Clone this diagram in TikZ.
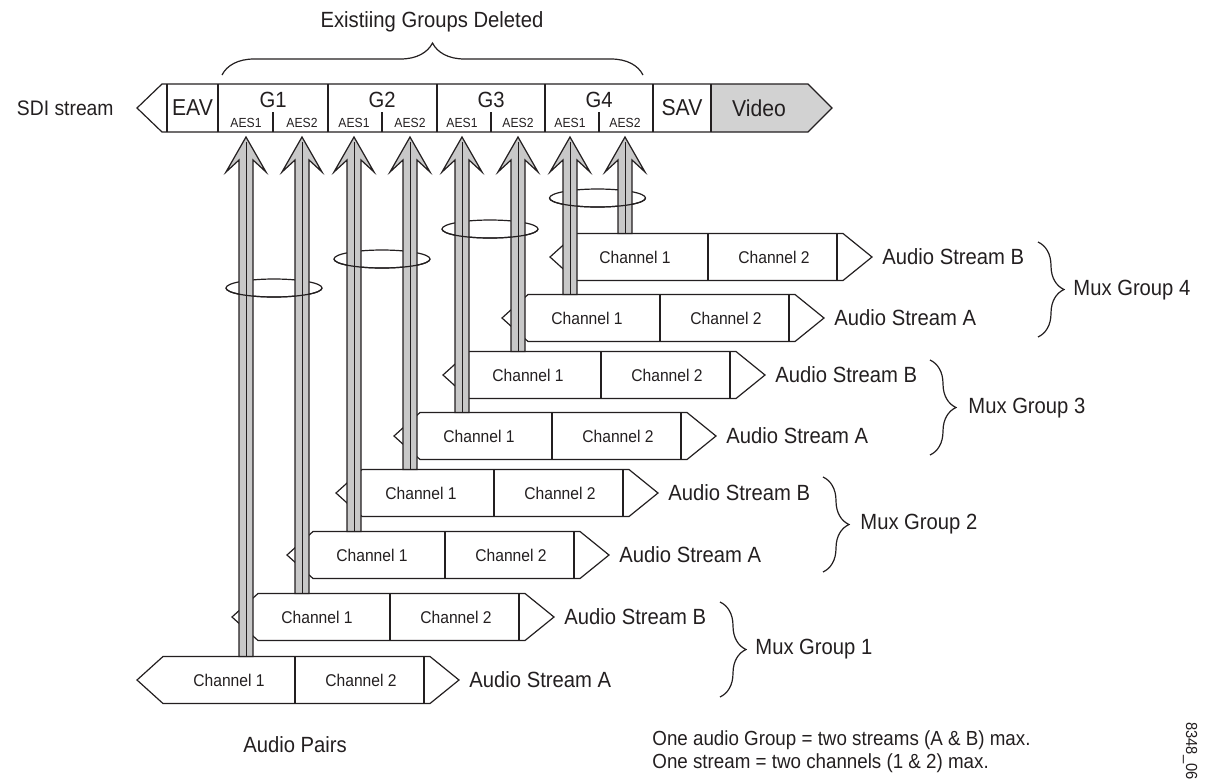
\documentclass[tikz,border=0pt]{standalone}
\usepackage{fontspec}
\setmainfont{Liberation Sans}[FakeStretch=0.92]
\usetikzlibrary{positioning,calc,decorations.pathreplacing}
\definecolor{inkgray}{HTML}{231F20}
\definecolor{pairgray}{HTML}{C8C8C8}
\definecolor{videogray}{HTML}{D2D2D2}
\tikzset{
  outline/.style={draw=inkgray,line width=0.6pt},
  stream/.style={outline,fill=white},
  chan/.style={font=\fontsize{8.5}{10}\selectfont,text=inkgray,inner sep=0pt},
  lbl/.style={font=\fontsize{11}{11.5}\selectfont,text=inkgray,inner sep=0pt},
  sdicell/.style={font=\fontsize{11.5}{14}\selectfont,text=inkgray,inner sep=0pt},
  grp/.style={font=\fontsize{11}{13}\selectfont,text=inkgray,inner sep=0pt},
  aes/.style={font=\fontsize{6.6}{8}\selectfont,text=inkgray,inner sep=0pt},
  pairarrow/.style={outline,fill=pairgray},
  pairline/.style={draw=inkgray,line width=0.5pt},
  ring/.style={draw=inkgray,line width=0.6pt},
  grpbrace/.style={draw=inkgray,line width=0.6pt,decorate,decoration={brace,amplitude=#1}}
}

% one audio stream: [channel 1 offset] name, left tip, A or B
\newcommand\audiostream[4][85]{%
  \coordinate (#2) at (#3);
  \draw[stream] (#2) -- ++(26,-23.5) coordinate (#2nw) -- ++(267,0) -- ++(29,23.5) coordinate (#2tip)
    -- ++(-29,23.5) -- ++(-267,0) -- cycle;
  \draw[outline] ($(#2nw)+(132,0)$) -- ++(0,47);
  \draw[outline] ($(#2nw)+(261,0)$) -- ++(0,47);
  \node[chan] (#2c1) at ($(#2)+(#1,0)$) {Channel 1};
  \node[chan] (#2c2) at ($(#2)+(224,0)$) {Channel 2};
  \node[lbl,anchor=west] (#2lbl) at ($(#2tip)+(10,0)$) {Audio Stream #4};
}

% wide arrow from a stream up to its AES slot
\newcommand\aespair[2]{%
  \path (#2 |- tipline) coordinate (#2tp) (#2 |- #1nw) coordinate (#2bt);
  \filldraw[pairarrow] let \p1=(#2tp), \p2=(#2bt) in
    (\x2-3.5pt,\y2) -- (\x2-3.5pt,\y1-11.5pt) -- (\x1-10pt,\y1-17.5pt) -- (\p1)
    -- (\x1+10pt,\y1-17.5pt) -- (\x1+3.5pt,\y1-11.5pt) -- (\x2+3.5pt,\y2) -- cycle;
  \draw[pairline] (#2bt) -- ($(#2tp)+(0,5)$);
}

\begin{document}
\begin{tikzpicture}[x=0.5pt,y=-0.5pt]
\useasboundingbox (0,0) rectangle (1210,778);

% SDI stream bar
\coordinate (tipline) at (0,137);
\fill[videogray] (711,84) -- (808,84) -- (832,108) -- (808,132) -- (711,132) -- cycle;
\draw[outline] (137,108) -- (162,84) -- (808,84) -- (832,108) -- (808,132) -- (162,132) -- cycle;
\foreach \x in {167,218,328,437,545,653,711} \draw[outline] (\x,84) -- (\x,132);
\foreach \x in {273,382,491,599} \draw[outline] (\x,112) -- (\x,132);

\node[lbl,font=\fontsize{10.5}{11}\selectfont,anchor=east] (sdi) at (114,108) {SDI stream};
\node[sdicell] (eav) at (192.5,108) {EAV};
\node[sdicell] (sav) at (682,108) {SAV};
\node[sdicell] (video) at (759,108) {Video};
\foreach \g/\cx/\a/\b in {1/273/246/302,2/382/354/410,3/491/462/518,4/599/570/625}{
  \node[grp] (g\g) at (\cx,100) {G\g};
  \node[aes] (aes\g1) at (\a,123) {AES1};
  \node[aes] (aes\g2) at (\b,123) {AES2};
}

\draw[grpbrace=16pt] (222,75) -- (643,75);
\node[lbl] (deleted) at (432,22) {Existiing Groups Deleted};

% streams
\audiostream[92]{s1}{137,680}{A}
\audiostream{s2}{232,617}{B}
\audiostream{s3}{287,555}{A}
\audiostream{s4}{336,493}{B}
\audiostream{s5}{394,436}{A}
\audiostream{s6}{443,375}{B}
\audiostream{s7}{502,318}{A}
\audiostream{s8}{550,257}{B}

% rings round each pair
\foreach \p/\q/\h in {aes11/aes12/288,aes21/aes22/259,aes31/aes32/229,aes41/aes42/198}
  \draw[ring] ($(\p |- 0,\h)!0.5!(\q |- 0,\h)$) ellipse [x radius=24pt, y radius=4.5pt];

\aespair{s1}{aes11}
\aespair{s2}{aes12}
\aespair{s3}{aes21}
\aespair{s4}{aes22}
\aespair{s5}{aes31}
\aespair{s6}{aes32}
\aespair{s7}{aes41}
\aespair{s8}{aes42}

\foreach \p/\q/\h in {aes11/aes12/288,aes21/aes22/259,aes31/aes32/229,aes41/aes42/198}
  \draw[ring] ($(\p |- 0,\h)!0.5!(\q |- 0,\h)$) ++(-24pt,0)
    arc [start angle=180, end angle=360, x radius=24pt, y radius=4.5pt];

% mux groups
\draw[grpbrace=13pt] (720,602) -- (720,697);
\node[lbl,anchor=west] (mg1) at (755,649) {Mux Group 1};
\draw[grpbrace=13pt] (823,477) -- (823,572);
\node[lbl,anchor=west] (mg2) at (860,524) {Mux Group 2};
\draw[grpbrace=13pt] (930,360) -- (930,455);
\node[lbl,anchor=west] (mg3) at (968,408) {Mux Group 3};
\draw[grpbrace=13pt] (1038,242) -- (1038,337);
\node[lbl,anchor=west] (mg4) at (1073,290) {Mux Group 4};

\node[lbl] (pairs) at (295,745) {Audio Pairs};
\node[lbl,font=\fontsize{10.2}{11.5}\selectfont,anchor=west,align=left] (note) at (652,752) {One audio Group = two streams (A \& B) max.\\One stream = two channels (1 \& 2) max.};
\node[font=\fontsize{8}{9}\selectfont,text=inkgray,rotate=-90,anchor=west,inner sep=0pt] (figid) at (1190,722) {8348\_06};
\end{tikzpicture}
\end{document}
